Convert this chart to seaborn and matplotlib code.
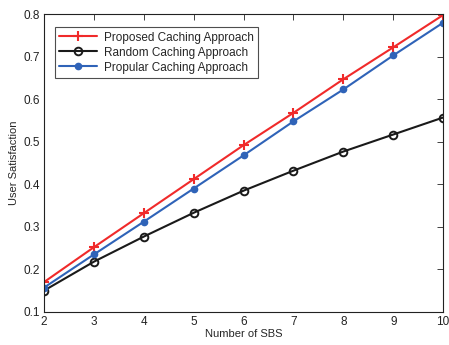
import numpy as np
import pandas as pd
import matplotlib
matplotlib.use('Agg')
import matplotlib.pyplot as plt
import seaborn as sns

# data
sbs = [2, 3, 4, 5, 6, 7, 8, 9, 10]
proposed = [0.170, 0.252, 0.332, 0.412, 0.492, 0.568, 0.647, 0.722, 0.798]
random_cache = [0.150, 0.218, 0.277, 0.333, 0.385, 0.432, 0.477, 0.517, 0.557]
popular = [0.157, 0.235, 0.312, 0.390, 0.468, 0.548, 0.623, 0.703, 0.780]

labels = ['Proposed Caching Approach', 'Random Caching Approach', 'Propular Caching Approach']

data = pd.DataFrame({
    'sbs': sbs * 3,
    'value': proposed + random_cache + popular,
    'method': [labels[0]] * 9 + [labels[1]] * 9 + [labels[2]] * 9,
})

sns.set_style('white')
plt.rcParams['font.family'] = ['Liberation Sans', 'DejaVu Sans']
plt.rcParams['font.size'] = 8.5

fig = plt.figure(figsize=(4.49, 3.45), dpi=100)
ax = fig.add_axes([0.098, 0.096, 0.889, 0.863])

styles = {
    labels[0]: dict(color='#f02a2a', marker='+', ms=6.5, mew=1.5, mec='#f02a2a', mfc='#f02a2a'),
    labels[1]: dict(color='#1a1a1a', marker='o', ms=5.5, mew=1.4, mec='#1a1a1a', mfc='none'),
    labels[2]: dict(color='#2f63b8', marker='o', ms=4.5, mew=1, mec='#2f63b8', mfc='#2f63b8'),
}
for lab in labels:
    d = data[data['method'] == lab]
    sns.lineplot(x=d['sbs'], y=d['value'], ax=ax, label=lab, lw=1.5, **styles[lab])

ax.set(xlim=[2, 10], ylim=[0.1, 0.8], xlabel='Number of SBS', ylabel='User Satisfaction')
ax.set_xticks(range(2, 11))
ax.set_yticks(np.arange(0.1, 0.81, 0.1))
ax.set_yticklabels(['0.1', '0.2', '0.3', '0.4', '0.5', '0.6', '0.7', '0.8'])
ax.tick_params(direction='in', length=4, width=0.6, top=True, right=True,
               labelsize=8.5, pad=3, colors='#222222')
for s in ax.spines.values():
    s.set_color('#222222')
    s.set_linewidth(0.8)
ax.xaxis.label.set_size(8)
ax.yaxis.label.set_size(8)
ax.xaxis.labelpad = 1
ax.yaxis.labelpad = 3

leg = ax.legend(loc='upper left', bbox_to_anchor=(0.012, 0.975), fontsize=8.5,
                frameon=True, fancybox=False, edgecolor='#222222',
                handlelength=3.2, borderpad=0.35, labelspacing=0.25, handletextpad=0.6)
leg.get_frame().set_linewidth(0.8)

fig.savefig('out.png', dpi=100)
